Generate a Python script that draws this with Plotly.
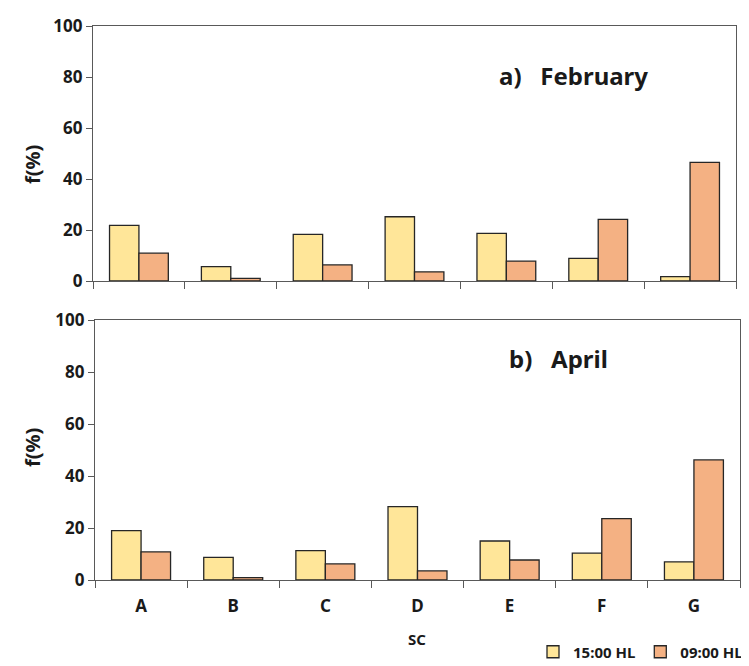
import plotly.graph_objects as go

categories = ["A", "B", "C", "D", "E", "F", "G"]
feb_1500 = [21.8, 5.6, 18.3, 25.2, 18.7, 8.9, 1.7]
feb_0900 = [10.9, 1.0, 6.3, 3.6, 7.8, 24.2, 46.5]
apr_1500 = [19.0, 8.7, 11.3, 28.2, 15.0, 10.3, 7.0]
apr_0900 = [10.8, 0.9, 6.2, 3.5, 7.7, 23.6, 46.2]
series_names = ["15:00 HL", "09:00 HL"]
y_ticks = [0, 20, 40, 60, 80, 100]

C_YEL = "#FFE699"
C_ORA = "#F4B183"
EDGE = "#262626"
AX = "#595959"
FONT = "Noto Sans"
TXT = "#1a1a1a"

fig = go.Figure()
def add(vals, name, color, xa, ya, show):
    fig.add_trace(go.Bar(x=categories, y=vals, name=name, marker=dict(color=color, line=dict(color=EDGE, width=1.3)),
                         xaxis=xa, yaxis=ya, showlegend=show, legendgroup=name))

add(feb_1500, series_names[0], C_YEL, "x", "y", False)
add(feb_0900, series_names[1], C_ORA, "x", "y", False)
add(apr_1500, series_names[0], C_YEL, "x2", "y2", True)
add(apr_0900, series_names[1], C_ORA, "x2", "y2", True)

# page body has an 8px margin; figure placed at (8,8)
OFF = 8
W, H = 749 - OFF, 666 - OFF
def px(a): return (a - OFF) / W
def py(b): return 1 - (b - OFF) / H

xcommon = dict(type="category", showline=True, linecolor=AX, linewidth=1.3, mirror=True,
               ticks="outside", tickson="boundaries", ticklen=7, tickcolor=AX, tickwidth=1,
               showgrid=False, zeroline=False, automargin=False)
ycommon = dict(range=[0, 100], tickvals=y_ticks, showline=True, linecolor=AX, linewidth=1.3, mirror=True,
               ticks="outside", ticklen=6, tickcolor=AX, showgrid=False, zeroline=False, automargin=False,
               tickfont=dict(family=FONT, size=17, color=TXT, weight="bold"))

fig.update_layout(
    width=W, height=H, margin=dict(l=0, r=0, t=0, b=0, autoexpand=False),
    plot_bgcolor="white", paper_bgcolor="white",
    barmode="group", bargap=0.36, bargroupgap=0.0,
    xaxis=dict(xcommon, domain=[px(93), px(736)], anchor="y", showticklabels=False),
    yaxis=dict(ycommon, domain=[py(281), py(26)], anchor="x"),
    xaxis2=dict(xcommon, domain=[px(95), px(740)], anchor="y2", showticklabels=True, ticklabelstandoff=10,
                tickfont=dict(family=FONT, size=17, color=TXT, weight="bold")),
    yaxis2=dict(ycommon, domain=[py(580), py(320)], anchor="x2"),
    legend=dict(orientation="h", x=px(748), xanchor="right", y=py(652), yanchor="middle",
                font=dict(family=FONT, size=15, color=TXT, weight="bold"),
                bgcolor="rgba(0,0,0,0)", itemwidth=30, tracegroupgap=0),
    font=dict(family=FONT),
)

ann_font = dict(family=FONT, size=24, color=TXT, weight="bold")
fig.add_annotation(text="a)\u00a0\u00a0\u00a0February", x=px(573), y=py(76), xref="paper", yref="paper",
                   showarrow=False, xanchor="center", yanchor="middle", font=ann_font)
fig.add_annotation(text="b)\u00a0\u00a0\u00a0April", x=px(558), y=py(358), xref="paper", yref="paper",
                   showarrow=False, xanchor="center", yanchor="middle", font=ann_font)
yt_font = dict(family=FONT, size=20, color=TXT, weight="bold")
for yc in (165, 448):
    fig.add_annotation(text="f(%)", x=px(32), y=py(yc), xref="paper", yref="paper", textangle=-90,
                       showarrow=False, xanchor="center", yanchor="middle", font=yt_font)
fig.add_annotation(text="SC", x=px(417), y=py(639), xref="paper", yref="paper", showarrow=False,
                   xanchor="center", yanchor="middle", font=dict(family=FONT, size=15, color=TXT, weight="bold"))

fig.write_html("out.html")
